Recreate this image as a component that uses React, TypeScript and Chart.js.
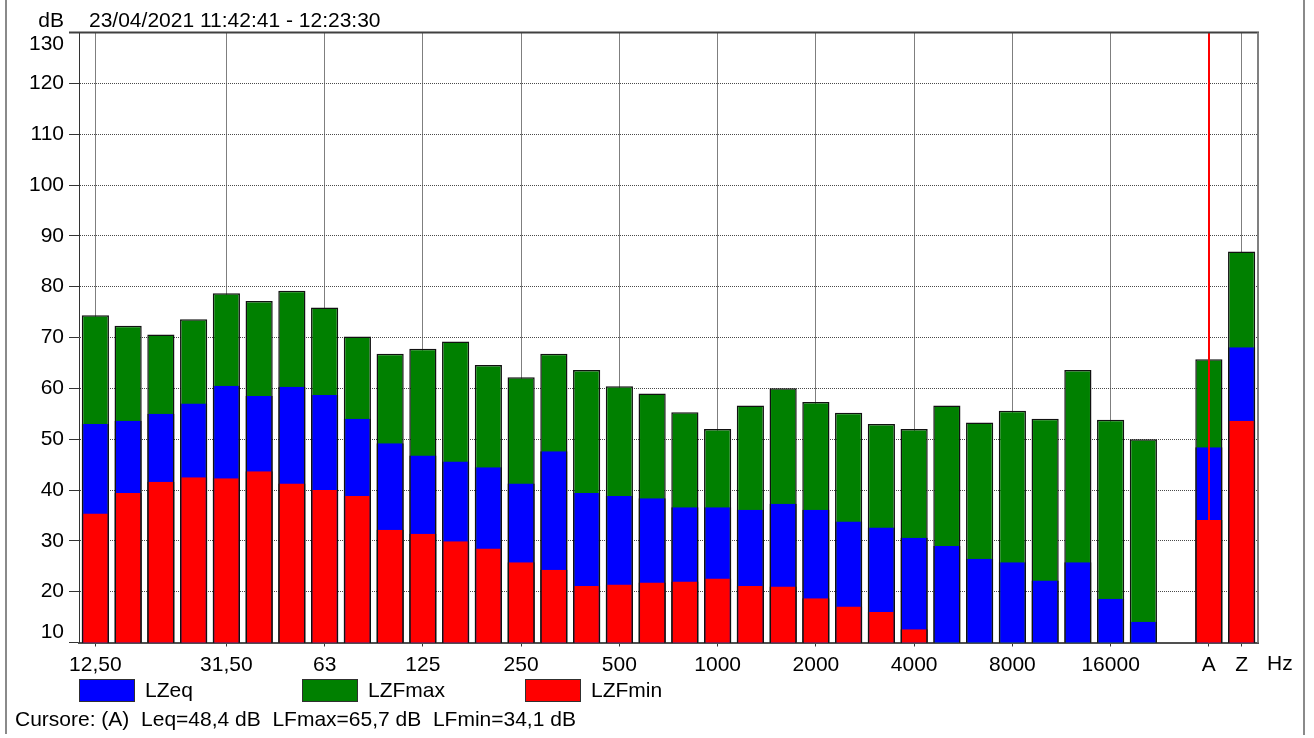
import React, { useEffect, useRef } from 'react';
import { Chart, registerables } from 'chart.js';

Chart.register(...registerables);

const categories = ['12,50', '16', '20', '25', '31,50', '40', '50', '63', '80', '100', '125', '160', '200', '250', '315', '400', '500', '630', '800', '1000', '1250', '1600', '2000', '2500', '3150', '4000', '5000', '6300', '8000', '10000', '12500', '16000', '20000', '', 'A', 'Z'];
const labeledTicks = ['12,50', '31,50', '63', '125', '250', '500', '1000', '2000', '4000', '8000', '16000', 'A', 'Z'];

const lzeq = [53.0, 53.6, 55.0, 57.0, 60.5, 58.5, 60.3, 58.7, 54.0, 49.2, 46.8, 45.6, 44.5, 41.3, 47.6, 39.4, 38.8, 38.4, 36.6, 36.6, 36.1, 37.3, 36.1, 33.8, 32.6, 30.6, 29.0, 26.5, 25.8, 22.2, 25.8, 18.6, 14.1, null, 48.4, 68.1];
const lzfmax = [74.4, 72.3, 70.6, 73.6, 78.7, 77.2, 79.2, 75.9, 70.2, 66.8, 67.8, 69.2, 64.6, 62.2, 66.8, 63.6, 60.4, 59.0, 55.3, 52.0, 56.6, 60.0, 57.3, 55.2, 53.0, 52.0, 56.6, 53.3, 55.6, 54.0, 63.6, 53.8, 50.0, null, 65.7, 86.9];
const lzfmin = [35.4, 39.4, 41.6, 42.5, 42.3, 43.7, 41.3, 40.0, 38.8, 32.2, 31.4, 29.9, 28.5, 25.8, 24.3, 21.1, 21.4, 21.8, 22.0, 22.6, 21.1, 21.0, 18.7, 17.1, 16.0, 12.6, null, null, null, null, null, null, null, null, 34.1, 53.6];

const seriesNames = ['LZeq', 'LZFmax', 'LZFmin'];
const seriesColors = ['#0000ff', '#008000', '#ff0000'];

const yMin = 10;
const yMax = 130;
const yStep = 10;

const titleText = '23/04/2021 11:42:41 - 12:23:30';
const unitY = 'dB';
const unitX = 'Hz';
const footerText = 'Cursore: (A)  Leq=48,4 dB  LFmax=65,7 dB  LFmin=34,1 dB';
const cursorCategory = 'A';

const FONT = '"Liberation Sans", Arial, Helvetica, sans-serif';
const FS = 21;
const fontStr = `${FS}px ${FONT}`;

const decorPlugin = {
  id: 'decor',
  beforeDraw(chart: any) {
    const { ctx, width, height } = chart;
    ctx.save();
    ctx.fillStyle = '#ffffff';
    ctx.fillRect(0, 0, width, height);
    ctx.restore();
  },
  afterDatasetsDraw(chart: any) {
    const { ctx, chartArea: a, scales } = chart;
    const cx = scales.x.getPixelForValue(categories.indexOf(cursorCategory));
    ctx.save();
    ctx.setLineDash([]);
    ctx.strokeStyle = '#ff0000';
    ctx.lineWidth = 2;
    ctx.beginPath();
    ctx.moveTo(Math.round(cx), a.top);
    ctx.lineTo(Math.round(cx), a.bottom);
    ctx.stroke();
    ctx.strokeStyle = '#404040';
    ctx.lineWidth = 2;
    ctx.beginPath();
    ctx.moveTo(a.left - 10, a.top);
    ctx.lineTo(a.right + 1, a.top);
    ctx.stroke();
    ctx.strokeStyle = '#808080';
    ctx.lineWidth = 2;
    ctx.beginPath();
    ctx.moveTo(a.right, a.top);
    ctx.lineTo(a.right, a.bottom);
    ctx.stroke();
    ctx.restore();
  },
  afterDraw(chart: any) {
    const { ctx, chartArea: a, scales } = chart;
    ctx.save();
    ctx.font = fontStr;
    ctx.fillStyle = '#000000';
    ctx.textBaseline = 'alphabetic';
    ctx.textAlign = 'right';
    ctx.fillText(unitY, 64, 27);
    ctx.textAlign = 'left';
    ctx.fillText(titleText, 89, 27);
    ctx.textAlign = 'right';
    ctx.textBaseline = 'middle';
    ctx.fillText(String(yMax), 64, scales.y.getPixelForValue(yMax) + 12);
    ctx.fillText(String(yMin), 64, scales.y.getPixelForValue(yMin) - 10);
    ctx.textAlign = 'left';
    ctx.fillText(unitX, a.right + 9, 664);
    chart.data.datasets.forEach((ds: any, i: number) => {
      const x0 = 79 + i * 223;
      const y0 = 679;
      ctx.fillStyle = ds.backgroundColor;
      ctx.fillRect(x0, y0, 56, 23);
      ctx.strokeStyle = '#303030';
      ctx.lineWidth = 1;
      ctx.strokeRect(x0 + 0.5, y0 + 0.5, 55, 22);
      ctx.fillStyle = '#000000';
      ctx.textAlign = 'left';
      ctx.textBaseline = 'middle';
      ctx.fillText(ds.label, x0 + 66, y0 + 12);
    });
    ctx.textBaseline = 'alphabetic';
    ctx.fillText(footerText, 15, 726);
    ctx.strokeStyle = '#8a8a8a';
    ctx.lineWidth = 2;
    ctx.beginPath();
    ctx.moveTo(6, 0);
    ctx.lineTo(6, 734);
    ctx.moveTo(1304, 0);
    ctx.lineTo(1304, 735);
    ctx.stroke();
    ctx.restore();
  },
};

export default function App() {
  const canvasRef = useRef<HTMLCanvasElement | null>(null);

  useEffect(() => {
    document.body.style.margin = '0';
    const canvas = canvasRef.current;
    if (!canvas) return;
    const mkBorder = (top: number) => ({ top, left: 1.5, right: 1.5, bottom: 0 });
    const chart = new Chart(canvas, {
      type: 'bar',
      data: {
        labels: categories,
        datasets: [
          {
            label: seriesNames[0],
            data: lzeq,
            backgroundColor: seriesColors[0],
            borderColor: '#111111',
            borderWidth: mkBorder(0),
            order: 1,
          },
          {
            label: seriesNames[1],
            data: lzfmax,
            backgroundColor: seriesColors[1],
            borderColor: '#111111',
            borderWidth: mkBorder(1.5),
            order: 2,
          },
          {
            label: seriesNames[2],
            data: lzfmin,
            backgroundColor: seriesColors[2],
            borderColor: '#111111',
            borderWidth: mkBorder(0),
            order: 0,
          },
        ] as any,
      },
      options: {
        responsive: false,
        animation: false,
        devicePixelRatio: 1,
        layout: { padding: { left: 0, top: 32.5, right: 56, bottom: 0 } },
        datasets: { bar: { barPercentage: 0.83, categoryPercentage: 1.0 } },
        plugins: {
          legend: { display: false },
          title: { display: false },
          tooltip: { enabled: false },
        },
        scales: {
          x: {
            stacked: true,
            offset: true,
            afterFit: (s: any) => {
              s.height = 95.5;
            },
            grid: {
              offset: false,
              color: (c: any) => {
                const l = categories[c.index];
                return labeledTicks.includes(l) && l !== cursorCategory ? '#000000' : 'rgba(0,0,0,0)';
              },
              tickColor: (c: any) => (labeledTicks.includes(categories[c.index]) ? '#333333' : 'rgba(0,0,0,0)'),
              lineWidth: 1,
              tickLength: 4,
              drawTicks: true,
            },
            border: { display: true, color: '#505050', width: 2, dash: [1, 1] },
            ticks: {
              autoSkip: false,
              maxRotation: 0,
              minRotation: 0,
              padding: 6,
              color: '#000000',
              font: { family: FONT, size: FS },
              callback: (v: any) => {
                const l = categories[v as number];
                return labeledTicks.includes(l) ? l : '';
              },
            },
          },
          y: {
            min: yMin,
            max: yMax,
            afterFit: (s: any) => {
              s.width = 79;
            },
            grid: {
              color: (c: any) => {
                const v = c.tick ? c.tick.value : null;
                return v === yMin || v === yMax ? 'rgba(0,0,0,0)' : '#4a4a4a';
              },
              tickColor: '#333333',
              lineWidth: 1,
              tickLength: 10,
            },
            border: { display: true, color: '#333333', width: 1, dash: [1, 1] },
            ticks: {
              stepSize: yStep,
              padding: 5,
              color: '#000000',
              font: { family: FONT, size: FS },
              callback: (v: any) => (v === yMin || v === yMax ? '' : String(v)),
            },
          },
        },
      } as any,
      plugins: [decorPlugin],
    });
    return () => {
      chart.destroy();
    };
  }, []);

  return (
    <div style={{ width: 1314, height: 738, position: 'relative' }}>
      <canvas ref={canvasRef} width={1314} height={738} style={{ display: 'block', width: 1314, height: 738 }} />
    </div>
  );
}
